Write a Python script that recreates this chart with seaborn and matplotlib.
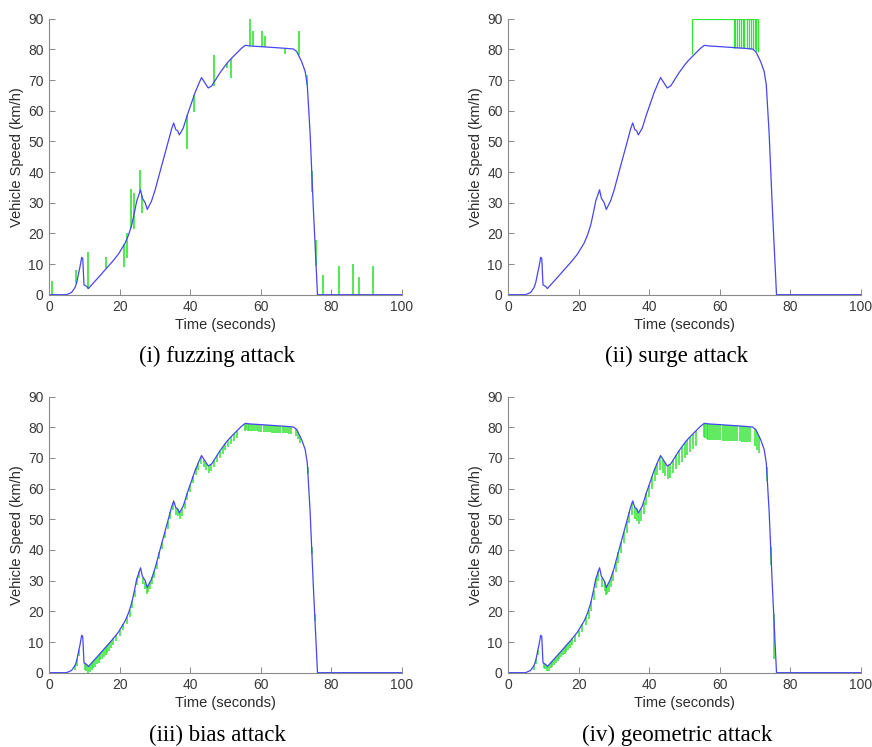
import matplotlib
matplotlib.use('Agg')
import matplotlib.pyplot as plt
import pandas as pd
import seaborn as sns

# base vehicle speed profile (km/h)
speed_t = [0, 4.9, 6.3, 7.3, 7.8, 8.2, 8.7, 9.2, 9.5, 9.85, 10.6, 11.1, 12.5, 14.0, 15.3,
           16.3, 18.0, 19.6, 21.5, 22.5, 23.4, 24.2, 24.8, 25.9, 26.4, 27.2, 27.8, 29.0,
           30.0, 31.4, 33.3, 34.7, 35.3, 35.9, 36.4, 36.9, 38.0, 39.2, 40.5, 41.3, 42.5,
           43.2, 44.2, 45.1, 46.1, 48.4, 50.3, 51.3, 53.2, 54.5, 55.6, 57.0, 59.8, 63.6,
           67.4, 69.3, 70.2, 71.6, 72.6, 73.2, 74.0, 74.9, 76.1, 100]
speed_v = [0, 0, 0.7, 2.3, 4.0, 6.3, 9.0, 12.2, 11.8, 3.2, 2.7, 2.0, 3.8, 5.7, 7.4,
           8.7, 10.9, 13.2, 16.8, 19.5, 22.8, 27.0, 30.5, 34.2, 31.5, 30.0, 27.8, 30.5,
           34.0, 40.0, 48.0, 54.0, 56.0, 53.8, 53.5, 52.1, 54.3, 58.7, 63.0, 65.7, 69.0,
           70.8, 69.0, 67.4, 68.1, 72.3, 75.3, 76.6, 78.8, 80.3, 81.3, 81.1, 80.9, 80.6,
           80.3, 80.1, 79.3, 76.0, 72.8, 68.4, 52.7, 28.7, 0, 0]

# fuzzing attack spikes: time, low end, high end
fuzz_t = [0.9, 7.6, 11.1, 16.2, 21.3, 22.0, 23.1, 24.1, 25.7, 26.2, 39.2, 41.1, 46.8,
          50.3, 51.5, 56.95, 57.7, 60.3, 61.2, 67.0, 70.9, 73.2, 74.5, 75.7, 77.6, 82.1,
          86.3, 87.9, 91.9]
fuzz_lo = [0, 3.8, 2.0, 8.6, 9.0, 12.0, 21.8, 21.3, 33.6, 26.6, 47.6, 59.7, 67.9,
           74.0, 70.6, 81.1, 81.1, 80.9, 80.8, 78.6, 78.0, 68.4, 33.6, 9.2, 0, 0,
           0, 0, 0]
fuzz_hi = [4.5, 8.1, 14.0, 12.2, 16.5, 20.0, 34.4, 33.1, 40.5, 32.6, 58.7, 65.2, 78.3,
           75.5, 77.0, 90.2, 85.9, 85.9, 84.2, 80.3, 85.9, 71.7, 40.2, 17.9, 6.4, 9.2,
           10.0, 5.9, 9.2]

# surge attack: jump to 90 km/h, hold, then rapid toggling
surge_t = [52.1, 63.9, 64.4, 64.9, 65.4, 65.9, 66.5, 67.0, 67.6, 68.2, 68.8, 69.3,
           69.9, 70.4, 70.8]
surge_lo = [78.4, 80.6, 80.5, 80.5, 80.5, 80.4, 80.4, 80.3, 80.3, 80.2, 80.2, 80.1,
            80.0, 79.6, 79.0]
surge_level = 90

# bias / geometric attack ticks (shared sample times, true value, attacked value)
att_t = [7.4, 7.9, 8.4, 10.0, 10.5, 11.0, 11.5, 12.0, 12.5, 13.0, 13.5, 14.0, 14.5,
         15.0, 15.5, 16.0, 16.5, 17.0, 17.5, 18.2, 19.0, 20.0, 21.0, 22.0, 22.8, 23.5,
         24.2, 24.9, 25.5, 26.6, 27.3, 27.7, 28.1, 28.6, 29.2, 29.8, 30.5, 31.2, 32.0,
         32.8, 33.6, 34.3, 35.0, 35.9, 36.5, 37.0, 37.6, 38.4, 39.2, 40.0, 40.8, 41.6,
         42.3, 43.0, 44.0, 44.6, 45.2, 46.0, 46.8, 47.6, 48.4, 49.2, 50.0, 50.8, 51.6,
         52.4, 53.2, 55.4, 55.8, 56.3, 56.8, 57.3, 57.8, 58.4, 59.0, 59.6, 60.2, 60.8,
         61.4, 62.0, 62.6, 63.2, 63.8, 64.4, 65.0, 65.6, 66.2, 66.8, 67.4, 68.0, 68.6,
         69.9, 70.5, 71.1, 73.3, 74.4, 75.3]
att_hi = [2.6, 4.5, 7.4, 3.1, 2.8, 2.1, 2.5, 3.2, 3.8, 4.4, 5.1, 5.7, 6.4,
          7.0, 7.6, 8.3, 8.9, 9.6, 10.2, 11.2, 12.3, 14.0, 15.8, 18.1, 20.5, 23.3,
          27.0, 30.8, 33.0, 31.0, 29.6, 28.2, 28.6, 29.6, 31.2, 33.3, 36.1, 39.2, 42.6,
          46.0, 49.3, 52.5, 55.2, 53.8, 53.3, 52.3, 53.4, 55.8, 58.7, 61.3, 64.0, 66.6,
          68.5, 70.3, 69.3, 68.3, 67.4, 68.0, 69.5, 70.9, 72.3, 73.6, 74.8, 75.9, 77.0,
          77.9, 78.8, 81.1, 81.3, 81.2, 81.1, 81.1, 81.0, 81.0, 81.0, 80.9, 80.9, 80.8,
          80.8, 80.7, 80.7, 80.6, 80.6, 80.5, 80.5, 80.4, 80.4, 80.3, 80.3, 80.2, 80.2,
          79.6, 78.6, 77.2, 67.0, 41.0, 19.0]
bias_lo = [0.8, 2.3, 5.5, 0.9, 0.5, 0.0, 0.2, 0.8, 1.4, 2.0, 2.7, 3.3, 4.0,
           4.6, 5.2, 5.9, 6.5, 7.2, 7.9, 9.0, 10.3, 12.0, 13.8, 16.0, 18.2, 21.0,
           24.8, 28.5, 31.0, 28.8, 27.2, 25.8, 26.2, 27.3, 29.0, 31.0, 33.8, 37.0, 40.3,
           43.8, 47.0, 50.2, 53.0, 51.5, 51.0, 50.0, 51.1, 53.5, 56.4, 59.0, 61.7, 64.3,
           66.2, 68.0, 67.0, 66.0, 65.1, 65.8, 67.2, 68.6, 70.0, 71.3, 72.5, 73.6, 74.7,
           75.6, 76.5, 78.8, 79.0, 78.9, 78.8, 78.8, 78.7, 78.7, 78.7, 78.6, 78.6, 78.5,
           78.5, 78.4, 78.4, 78.3, 78.3, 78.2, 78.2, 78.1, 78.1, 78.0, 78.0, 77.9, 77.9,
           77.3, 76.3, 74.9, 64.7, 38.7, 16.7]
geom_lo = [1.0, 2.8, 5.8, 1.5, 1.1, 0.4, 0.7, 1.4, 2.0, 2.6, 3.2, 3.8, 4.4,
           5.0, 5.6, 6.2, 6.8, 7.4, 8.0, 8.9, 10.0, 11.6, 13.3, 15.4, 17.6, 20.2,
           23.8, 27.5, 29.8, 28.0, 26.5, 25.2, 25.5, 26.4, 28.0, 30.0, 32.8, 35.7, 39.0,
           42.4, 45.6, 48.7, 51.5, 50.0, 49.5, 48.5, 49.5, 51.8, 54.7, 57.3, 59.9, 62.5,
           64.3, 66.0, 65.0, 64.0, 63.0, 63.5, 65.0, 66.3, 67.6, 68.8, 70.0, 71.0, 72.0,
           72.9, 73.8, 77.0, 76.5, 76.2, 76.0, 76.0, 75.9, 75.9, 75.8, 75.8, 75.8, 75.7,
           75.7, 75.6, 75.6, 75.5, 75.5, 75.4, 75.4, 75.4, 75.3, 75.3, 75.3, 75.2, 75.2,
           73.8, 72.5, 71.5, 62.5, 35.0, 4.5]

captions = ['(i) fuzzing attack', '(ii) surge attack', '(iii) bias attack', '(iv) geometric attack']

df = pd.DataFrame({'t': speed_t, 'v': speed_v})

sns.set_theme(style='ticks')
plt.rcParams['font.family'] = ['Liberation Sans', 'DejaVu Sans']

BLUE = '#4646f2'
GREEN = '#33e633'

fig = plt.figure(figsize=(8.72, 7.47), dpi=100)
lefts = [0.0565, 0.5829]
bottoms = [0.6055, 0.0995]
w, h = 0.4042, 0.3695

axes = []
for r in range(2):
    for c in range(2):
        axes.append(fig.add_axes([lefts[c], bottoms[r], w, h]))

# green attack traces
axes[0].vlines(fuzz_t, fuzz_lo, fuzz_hi, color=GREEN, lw=1.2)
axes[1].vlines(surge_t, surge_lo, surge_level, color=GREEN, lw=0.9)
axes[1].hlines(surge_level, surge_t[0], surge_t[-1], color=GREEN, lw=0.9)
axes[2].vlines(att_t, bias_lo, att_hi, color=GREEN, lw=1.1)
axes[3].vlines(att_t, geom_lo, att_hi, color=GREEN, lw=1.1)

for i, ax in enumerate(axes):
    sns.lineplot(data=df, x='t', y='v', ax=ax, color=BLUE, lw=0.9, sort=False,
                 estimator=None)
    ax.set_xlim(0, 100)
    ax.set_ylim(0, 90)
    ax.set_xticks([0, 20, 40, 60, 80, 100])
    ax.set_yticks(range(0, 91, 10))
    sns.despine(ax=ax)
    for s in ['left', 'bottom']:
        ax.spines[s].set_color('#8a8a8a')
        ax.spines[s].set_linewidth(0.8)
    ax.tick_params(direction='in', length=4, width=0.7, color='#8a8a8a',
                   labelsize=10, labelcolor='#3a3a3a', pad=4)
    ax.set_xlabel('Time (seconds)', fontsize=10.5, color='#2a2a2a', labelpad=3)
    ax.set_ylabel('Vehicle Speed (km/h)', fontsize=10.5, color='#2a2a2a', labelpad=3)

cap_x = [217 / 872, 677 / 872]
cap_y = [1 - 356 / 747, 1 - 735 / 747]
for i, cap in enumerate(captions):
    fig.text(cap_x[i % 2], cap_y[i // 2], cap, ha='center', va='center',
             fontsize=16.5, family=['Liberation Serif', 'DejaVu Serif'], color='black')

fig.savefig('out.png', dpi=100)
